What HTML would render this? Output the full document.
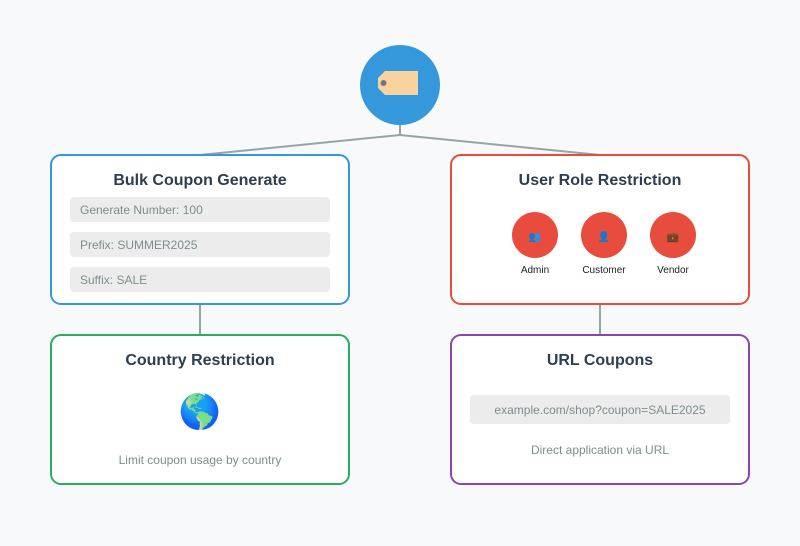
<!DOCTYPE html>
<html><head><style>body{margin:0;background:#f8f9fa}</style></head><body>
<svg width="800" height="541" xmlns="http://www.w3.org/2000/svg" font-family="Liberation Sans, Arial, sans-serif">
<rect width="800" height="541" fill="#f8f9fa"/>
<g stroke="#95a5a6" stroke-width="2" fill="none">
<line x1="400" y1="124" x2="400" y2="135"/>
<line x1="400" y1="135" x2="200" y2="155"/>
<line x1="400" y1="135" x2="600" y2="155"/>
<line x1="200" y1="305" x2="200" y2="335"/>
<line x1="600" y1="305" x2="600" y2="335"/>
</g>
<circle cx="400" cy="85" r="40" fill="#3498db"/>
<path d="M385 71 H418 V95 H385 L378 88 V78 Z" fill="#f8d3a0"/>
<circle cx="383.5" cy="83" r="2.5" fill="#8a6a6a" stroke="#5d7fa0"/>
<g stroke-width="2" fill="#fff">
<rect x="51" y="155" width="298" height="149" rx="10" stroke="#3498db"/>
<rect x="451" y="155" width="298" height="149" rx="10" stroke="#e74c3c"/>
<rect x="51" y="335" width="298" height="149" rx="10" stroke="#27ae60"/>
<rect x="451" y="335" width="298" height="149" rx="10" stroke="#8e44ad"/>
</g>
<g font-weight="bold" font-size="16" fill="#2c3e50" text-anchor="middle">
<text x="200" y="185">Bulk Coupon Generate</text>
<text x="600" y="185">User Role Restriction</text>
<text x="200" y="365">Country Restriction</text>
<text x="600" y="365">URL Coupons</text>
</g>
<g fill="#ececec">
<rect x="70" y="197" width="260" height="25" rx="4"/>
<rect x="70" y="232" width="260" height="25" rx="4"/>
<rect x="70" y="267" width="260" height="25" rx="4"/>
<rect x="470" y="395" width="260" height="29" rx="4"/>
</g>
<g font-size="12" fill="#7f8c8d">
<text x="80" y="214">Generate Number: 100</text>
<text x="80" y="249">Prefix: SUMMER2025</text>
<text x="80" y="284">Suffix: SALE</text>
<text x="600" y="414" text-anchor="middle">example.com/shop?coupon=SALE2025</text>
<text x="200" y="464" text-anchor="middle">Limit coupon usage by country</text>
<text x="600" y="454" text-anchor="middle">Direct application via URL</text>
</g>
<g fill="#e74c3c">
<circle cx="535" cy="235" r="23"/><circle cx="604" cy="235" r="23"/><circle cx="673" cy="235" r="23"/>
</g>
<g font-size="10" text-anchor="middle">
<text x="535" y="240">👥</text><text x="604" y="240">👤</text><text x="673" y="240">💼</text>
</g>
<g font-size="10" fill="#222" text-anchor="middle">
<text x="535" y="273">Admin</text><text x="604" y="273">Customer</text><text x="673" y="273">Vendor</text>
</g>
<text x="200" y="423" font-size="34" text-anchor="middle">🌎</text>
</svg>
</body></html>
